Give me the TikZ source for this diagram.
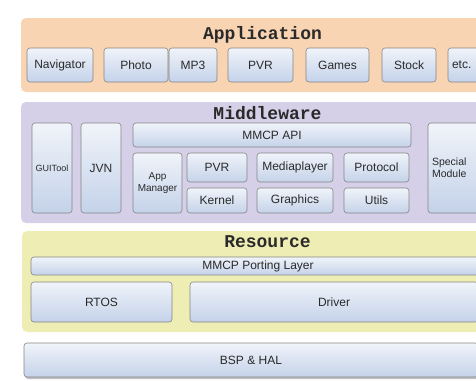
\documentclass[tikz,border=0pt]{standalone}
\usepackage{fontspec}
\setmainfont{Liberation Sans}
\setmonofont{Liberation Mono}
\usepackage{xcolor}
\usepackage{tikz}
\usetikzlibrary{shadows}

\definecolor{appbg}{HTML}{F9D4B2}
\definecolor{midbg}{HTML}{D5D0E8}
\definecolor{resbg}{HTML}{EEEEB4}
\definecolor{boxtop}{HTML}{F0F4FA}
\definecolor{boxbot}{HTML}{C4D2E9}
\definecolor{boxline}{HTML}{858585}
\definecolor{txt}{HTML}{2A2A2A}

\tikzset{
  band/.style={rounded corners=5pt, draw=none, inner sep=0pt},
  title/.style={font=\ttfamily\bfseries\fontsize{18}{18}\selectfont, text=txt},
  comp/.style={draw=boxline, line width=0.6pt, rounded corners=3pt,
    top color=boxtop, bottom color=boxbot, text=txt, inner sep=2pt,
    font=\fontsize{12}{13}\selectfont},
}

\begin{document}
\begin{tikzpicture}[x=1pt, y=-1pt]
        \useasboundingbox (0,0) rectangle (476,380);
        \clip (0,0) rectangle (476,380);

        % Application layer
        \node[band, fill=appbg, minimum width=479pt, minimum height=74pt] (app) at (260.5,55) {};
        \node[title] (apptitle) at (262.5,35) {Application};
        \node[comp, minimum width=66pt, minimum height=34pt] (nav) at (60,65) {Navigator};
        \node[comp, minimum width=64pt, minimum height=34pt] (photo) at (136,65) {Photo};
        \node[comp, minimum width=48pt, minimum height=34pt] (mp3) at (193,65) {MP3};
        \node[comp, minimum width=65pt, minimum height=34pt] (apppvr) at (260.5,65) {PVR};
        \node[comp, minimum width=63pt, minimum height=34pt] (games) at (337.5,65) {Games};
        \node[comp, minimum width=54pt, minimum height=34pt] (stock) at (409,65) {Stock};
        \node[comp, minimum width=56pt, minimum height=34pt, text width=48pt, align=left] (etcbox) at (476,65) {etc.};

        % Middleware layer
        \node[band, fill=midbg, minimum width=479pt, minimum height=121pt] (mid) at (260.5,162.5) {};
        \node[title] (midtitle) at (267.5,113) {Middleware};
        \node[comp, minimum width=40pt, minimum height=90pt, font=\fontsize{9}{10}\selectfont] (guitool) at (52,168) {GUITool};
        \node[comp, minimum width=40pt, minimum height=90pt] (jvn) at (101,168) {JVN};
        \node[comp, minimum width=278pt, minimum height=24pt] (api) at (272,135) {MMCP API};
        \node[comp, minimum width=49pt, minimum height=60pt, inner sep=1pt, align=center,
          font=\fontsize{10}{12}\selectfont] (appman) at (157.5,183) {App\\Manager};
        \node[comp, minimum width=60pt, minimum height=29pt] (midpvr) at (217,167.5) {PVR};
        \node[comp, minimum width=60pt, minimum height=25pt] (kernel) at (217,200.5) {Kernel};
        \node[comp, minimum width=76pt, minimum height=29pt] (media) at (295,167.5) {Mediaplayer};
        \node[comp, minimum width=76pt, minimum height=25pt] (graphics) at (295,200.5) {Graphics};
        \node[comp, minimum width=65pt, minimum height=29pt] (protocol) at (376.5,167.5) {Protocol};
        \node[comp, minimum width=65pt, minimum height=25pt] (utils) at (376.5,200.5) {Utils};
        \node[comp, minimum width=92pt, minimum height=90pt, text width=84pt, align=left,
          font=\fontsize{10.5}{12}\selectfont] (special) at (474,168) {Special\\Module};

        % Resource layer
        \node[band, fill=resbg, minimum width=478pt, minimum height=101pt] (res) at (261,281.5) {};
        \node[title] (restitle) at (267.5,242) {Resource};
        \node[comp, minimum width=454pt, minimum height=18pt, inner sep=1pt] (porting) at (258,266) {MMCP Porting Layer};
        \node[comp, minimum width=141pt, minimum height=40pt] (rtos) at (101.5,302) {RTOS};
        \node[comp, minimum width=288pt, minimum height=40pt] (driver) at (334,302) {Driver};

        % BSP
        \node[comp, minimum width=454pt, minimum height=34pt,
          drop shadow={shadow xshift=1pt, shadow yshift=-2pt, opacity=0.5}] (bsp) at (251,360) {BSP \& HAL};
    \end{tikzpicture}
\end{document}
